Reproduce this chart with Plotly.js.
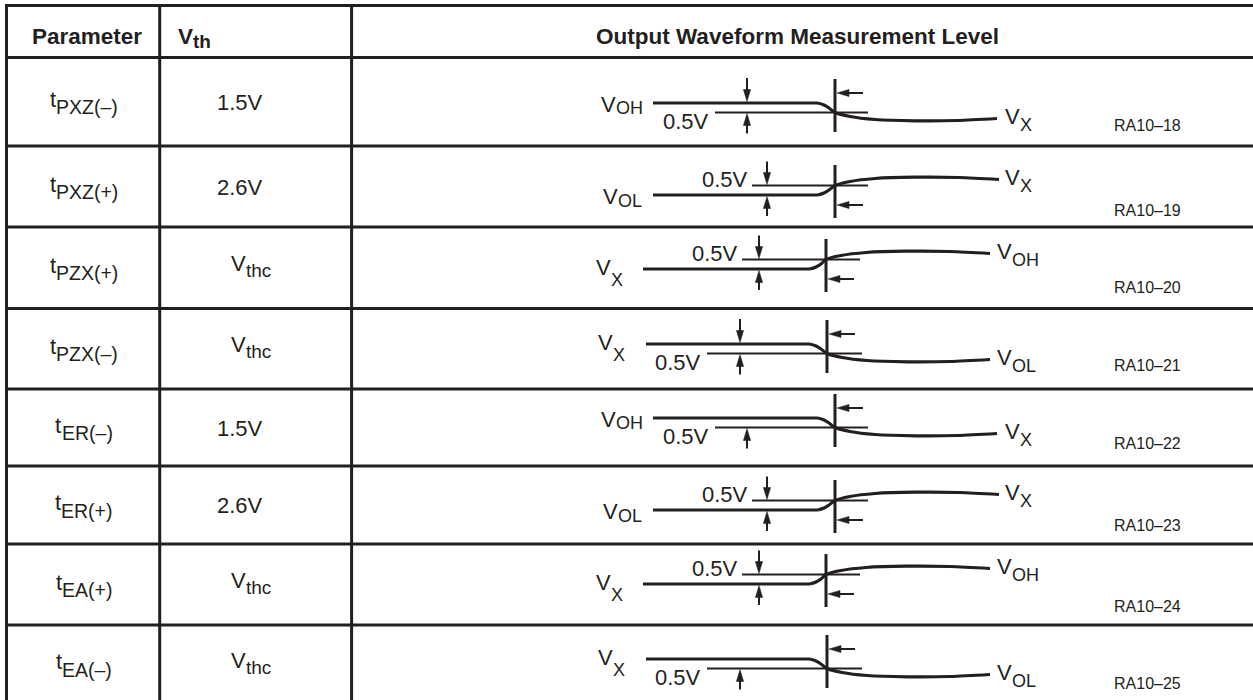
<!DOCTYPE html>
<html><head><meta charset="utf-8">
<script src="https://cdn.plot.ly/plotly-3.0.1.min.js"></script>
<style>html,body{margin:0;padding:0;background:#fff;overflow:hidden}#chart{width:1253px;height:700px}</style>
</head><body><div id="chart"></div>
<script>
// ---------------- data ----------------
const headerLabels = ['Parameter', 'V', 'Output Waveform Measurement Level'];
const headerSub = ['', 'th', ''];
const paramSymbol = 't';
const paramSubs = ['PXZ(–)', 'PXZ(+)', 'PZX(+)', 'PZX(–)', 'ER(–)', 'ER(+)', 'EA(+)', 'EA(–)'];
const thresholdMain = ['1.5V', '2.6V', 'V', 'V', '1.5V', '2.6V', 'V', 'V'];
const thresholdSub = ['', '', 'thc', 'thc', '', '', 'thc', 'thc'];
const levelSymbol = 'V';
const startLevels = ['OH', 'OL', 'X', 'X', 'OH', 'OL', 'X', 'X'];
const endLevels = ['X', 'X', 'OH', 'OL', 'X', 'X', 'OH', 'OL'];
const edgeDirection = ['fall', 'rise', 'rise', 'fall', 'fall', 'rise', 'rise', 'fall'];
const showDownArrow = [true, true, true, true, false, true, true, false];
const deltaLabel = '0.5V';
const figureCodes = ['RA10–18', 'RA10–19', 'RA10–20', 'RA10–21', 'RA10–22', 'RA10–23', 'RA10–24', 'RA10–25'];

// ---------------- geometry / style ----------------
const FONT = '"Liberation Sans", Arial, Helvetica, sans-serif';
const INK = '#231f20';
const G = {
  W: 1253, H: 700,
  hLines: [5.5, 57.5, 146, 227, 308.5, 389, 466, 544, 625],
  vLines: [6.5, 159.7, 351.6],
  paramCX: 83, vthCX: 246,
  levelY: [103, 195, 269, 344, 418, 510, 584, 659],
  codeX: 1113,
  codeY: [125, 210, 287, 365, 443, 525, 606, 683],
  types: {
    'OH-fall': {label: 600, x0: 653, knee: 818, vx: 835, end: 997, endLabel: 1004, h0: 715, h1: 868, ax: 747},
    'OL-rise': {label: 602, x0: 653, knee: 818, vx: 835, end: 999, endLabel: 1004, h0: 752, h1: 868, ax: 767},
    'X-rise':  {label: 595, x0: 643, knee: 810, vx: 826, end: 990, endLabel: 996, h0: 742, h1: 860, ax: 759},
    'X-fall':  {label: 597, x0: 646, knee: 810, vx: 827, end: 990, endLabel: 996, h0: 707, h1: 862, ax: 740}
  },
  subDrop: {OH: 3.5, OL: 4.5, X: 12}
};

const cvs = document.createElement('canvas').getContext('2d');
function measure(t, size, bold) {
  cvs.font = (bold ? 'bold ' : '') + size + 'px "Liberation Sans"';
  return cvs.measureText(t).width;
}

const annotations = [];
const shapes = [];
const traces = [];

function txt(x, y, text, size, anchor, bold) {
  annotations.push({
    x: x, y: y, xref: 'x', yref: 'y', text: text, showarrow: false,
    xanchor: anchor || 'left', yanchor: 'middle', borderpad: 0,
    font: {family: FONT, size: size, color: INK, weight: bold ? 700 : 400}
  });
}
function composite(x, align, yMain, ySub, main, sub, sMain, sSub, bold) {
  const w1 = measure(main, sMain, bold);
  const w2 = sub ? measure(sub, sSub, bold) : 0;
  const left = align === 'center' ? x - (w1 + w2) / 2 : x;
  txt(left, yMain, main, sMain, 'left', bold);
  if (sub) txt(left + w1, ySub, sub, sSub, 'left', bold);
}
function line(x0, y0, x1, y1, w) {
  shapes.push({type: 'line', xref: 'x', yref: 'y', x0: x0, y0: y0, x1: x1, y1: y1,
    line: {color: INK, width: w}});
}
function tri(pts) {
  shapes.push({type: 'path', xref: 'x', yref: 'y',
    path: 'M' + pts.map(p => p[0] + ',' + p[1]).join(' L') + ' Z',
    fillcolor: INK, line: {color: INK, width: 0.5}});
}
function arrowV(x, from, tip) {
  const dir = tip > from ? 1 : -1;
  line(x, from, x, tip - dir * 8, 2);
  tri([[x, tip], [x - 3.6, tip - dir * 12], [x + 3.6, tip - dir * 12]]);
}
function arrowL(xTip, xTail, y) {
  line(xTail, y, xTip + 8, y, 2);
  tri([[xTip, y], [xTip + 12, y - 3.6], [xTip + 12, y + 3.6]]);
}

// ---- table grid ----
G.hLines.forEach(y => line(5, y, G.W, y, 3));
G.vLines.forEach(x => line(x, 4, x, G.H, 3));

// ---- header ----
composite(G.paramCX + 3, 'center', 36.5, 36.5, headerLabels[0], headerSub[0], 22.5, 19, true);
composite(177, 'left', 36.5, 41, headerLabels[1], headerSub[1], 22.5, 19, true);
txt(797, 36.5, headerLabels[2], 22.5, 'center', true);

// ---- rows ----
for (let i = 0; i < paramSubs.length; i++) {
  const rowC = i === paramSubs.length - 1 ? 664 : (G.hLines[i + 1] + G.hLines[i + 2]) / 2;
  // parameter column
  composite(G.paramCX, 'center', rowC - 2.5, rowC + 5.5, paramSymbol, paramSubs[i], 22, 19.5, false);
  // threshold column
  if (thresholdSub[i]) composite(G.vthCX + 4, 'center', rowC - 4, rowC + 3, thresholdMain[i], thresholdSub[i], 22, 19, false);
  else txt(G.vthCX - 6, rowC + 0.5, thresholdMain[i], 22, 'center', false);

  // waveform
  const fall = edgeDirection[i] === 'fall';
  const d = fall ? 1 : -1;
  const T = G.types[startLevels[i] + '-' + edgeDirection[i]];
  const s = G.levelY[i];
  const h = s + d * 9.5;
  const endY = s + d * 17;
  // steady level before the edge
  traces.push({x: [T.x0, T.knee], y: [s, s], mode: 'lines', hoverinfo: 'skip', showlegend: false,
    line: {color: INK, width: 3.2}});
  // edge and settling toward the final level
  const xs = [T.knee, T.knee + 6, T.knee + 11, T.vx, T.vx + 15, T.vx + 40, T.vx + 80, T.end - 40, T.end];
  const ys = [s, s + d * 2, s + d * 5, s + d * 9.5, s + d * 13.5, s + d * 16.5, s + d * 17.8, s + d * 17.5, endY - d * 1.5];
  traces.push({x: xs, y: ys, mode: 'lines', hoverinfo: 'skip', showlegend: false,
    line: {color: INK, width: 3.2, shape: 'spline', smoothing: 0.8}});
  // 0.5V reference line
  line(T.h0, h, T.h1, h, 2);
  // vertical marker
  line(T.vx, fall ? s - 24 : s - 30, T.vx, fall ? s + 29 : s + 23, 3);
  // arrows
  if (fall) {
    if (showDownArrow[i]) arrowV(T.ax, s - 25, s - 1.5);
    arrowV(T.ax, h + 21, h + 1);
    arrowL(T.vx + 2, T.vx + 28, s - 10);
  } else {
    if (showDownArrow[i]) arrowV(T.ax, h - 24, h - 1);
    arrowV(T.ax, s + 21, s + 1.5);
    arrowL(T.vx + 2, T.vx + 28, s + 10);
  }
  // 0.5V text
  if (fall) txt(T.h0 - 5, h + 9, deltaLabel, 22, 'right', false);
  else txt(T.h0 - 3, h - 6, deltaLabel, 22, 'right', false);
  // level labels
  const vStartY = startLevels[i] === 'X' ? s - 1.5 : s + 1.5;
  composite(T.label, 'left', vStartY, vStartY + G.subDrop[startLevels[i]], levelSymbol, startLevels[i], 22, 18, false);
  const eY = endY - d * 1.5 - 2;
  composite(T.endLabel, 'left', eY, eY + 8, levelSymbol, endLevels[i], 22, 18, false);
  // figure code
  txt(G.codeX, G.codeY[i], figureCodes[i], 16, 'left', false);
}

const layout = {
  width: G.W, height: G.H,
  margin: {l: 0, r: 0, t: 0, b: 0, pad: 0},
  paper_bgcolor: '#ffffff', plot_bgcolor: '#ffffff',
  xaxis: {range: [0, G.W], visible: false, fixedrange: true},
  yaxis: {range: [G.H, 0], visible: false, fixedrange: true},
  showlegend: false,
  shapes: shapes,
  annotations: annotations
};
Plotly.newPlot('chart', traces, layout, {staticPlot: true, displayModeBar: false});
</script>
</body></html>
